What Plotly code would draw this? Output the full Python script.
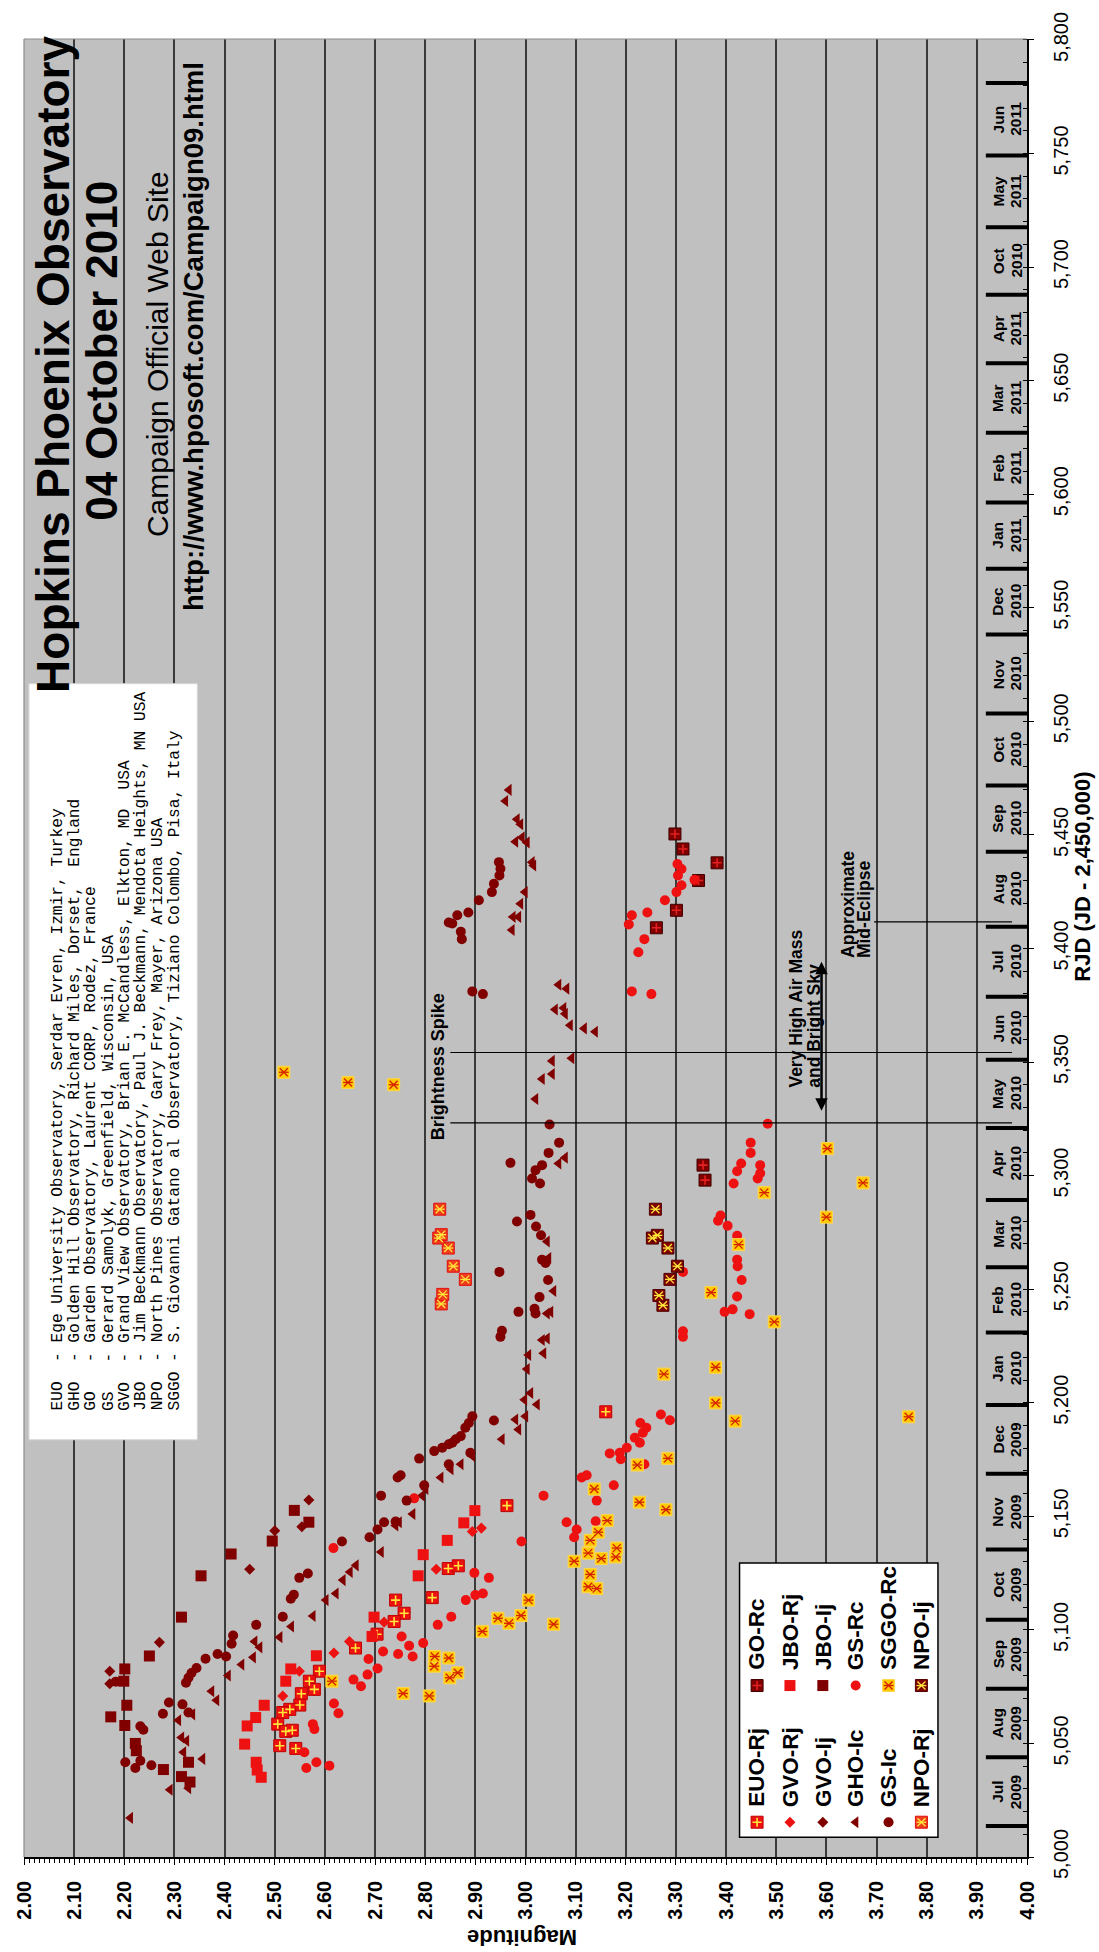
import plotly.graph_objects as go

W, H = 1099, 1952
L, R, T, B = 20, 1027, 28, 1857

def PX(X):
    return (X - L) / (R - L)

def PY(Y):
    return (B - Y) / (B - T)

def MAG(X):
    return 2.0 + 2.0 * (X - L) / (R - L)

def RJD(Y):
    return 5000 + 800.0 * (B - Y) / (B - T)

# ---------------- data (RJD, magnitude) ----------------
euo_rj_rjd = [5081.8, 5077.4, 5073.8, 5071.9, 5066.9, 5065.0, 5063.6, 5058.5, 5055.3, 5055.8, 5049.0, 5047.8,
              5127.0, 5128.2, 5114.2, 5113.1, 5107.3, 5103.7, 5098.1, 5092.0, 5154.7, 5196.0]
euo_rj_mag = [2.589, 2.569, 2.579, 2.553, 2.550, 2.530, 2.516, 2.506, 2.522, 2.535, 2.510, 2.542,
              2.846, 2.866, 2.814, 2.741, 2.758, 2.738, 2.704, 2.661, 2.963, 3.160]

go_rc_rjd = [5450.4, 5443.8, 5437.7, 5429.9, 5416.8, 5409.1, 5304.6, 5298.0]
go_rc_mag = [3.298, 3.314, 3.382, 3.345, 3.301, 3.261, 3.354, 3.358]

gvo_rj_rjd = [5089.8, 5081.8, 5070.9, 5126.7, 5103.4, 5094.9, 5143.3, 5144.8]
gvo_rj_mag = [2.618, 2.549, 2.516, 2.822, 2.718, 2.649, 2.894, 2.912]

jbo_rj_rjd = [5088.6, 5082.8, 5077.4, 5066.8, 5061.4, 5057.7, 5049.7, 5041.7, 5038.3, 5035.1,
              5123.8, 5105.6, 5097.1, 5152.5, 5147.1, 5139.4, 5133.1]
jbo_rj_mag = [2.583, 2.532, 2.522, 2.479, 2.462, 2.445, 2.440, 2.463, 2.465, 2.473,
              2.786, 2.698, 2.694, 2.899, 2.877, 2.844, 2.796]

gvo_ij_rjd = [5126.7, 5094.5, 5081.8, 5076.3, 5143.6, 5145.4, 5157.2]
gvo_ij_mag = [2.450, 2.270, 2.171, 2.171, 2.500, 2.554, 2.568]

jbo_ij_rjd = [5123.8, 5105.6, 5088.5, 5082.8, 5077.4, 5066.8, 5061.7, 5057.9, 5050.0, 5046.8, 5041.7,
              5038.5, 5035.4, 5033.0, 5133.4, 5139.1, 5152.6, 5147.4]
jbo_ij_mag = [2.353, 2.314, 2.250, 2.201, 2.199, 2.205, 2.173, 2.201, 2.222, 2.224, 2.328,
              2.278, 2.314, 2.331, 2.413, 2.495, 2.539, 2.568]

gho_ic_rjd = [5017.2, 5029.6, 5030.3, 5046.1, 5043.2, 5052.6, 5051.2, 5060.2, 5062.8, 5069.0, 5073.0,
              5079.9, 5084.7, 5087.9, 5092.3, 5094.9, 5096.8, 5101.5, 5106.1, 5113.1, 5116.0, 5121.9,
              5125.5, 5128.4, 5134.3, 5146.0, 5147.4, 5151.0, 5159.1, 5162.0, 5167.1, 5170.7, 5172.9,
              5176.6, 5183.9, 5188.2, 5192.6, 5194.0, 5201.3, 5199.2, 5204.3, 5214.8, 5221.0, 5221.8,
              5227.6, 5228.3, 5239.3, 5240.0, 5249.2, 5263.7, 5271.0, 5305.3, 5307.9, 5333.7, 5342.5,
              5344.7, 5350.5, 5351.7, 5363.3, 5364.8, 5366.2, 5371.2, 5373.8, 5373.1, 5382.3, 5384.0,
              5408.1, 5413.9, 5413.9, 5419.7, 5424.8, 5436.5, 5438.0, 5446.7, 5448.9, 5447.0, 5454.7,
              5456.9, 5464.9, 5469.8]
gho_ic_mag = [2.212, 2.291, 2.328, 2.318, 2.356, 2.314, 2.324, 2.308, 2.336, 2.384, 2.374,
              2.407, 2.434, 2.457, 2.470, 2.460, 2.510, 2.533, 2.576, 2.602, 2.622, 2.636,
              2.650, 2.662, 2.712, 2.741, 2.748, 2.775, 2.794, 2.801, 2.831, 2.851, 2.871,
              2.894, 2.953, 2.986, 2.980, 3.000, 2.998, 3.023, 3.010, 3.003, 3.006, 3.036,
              3.033, 3.043, 3.043, 3.050, 3.056, 3.046, 3.043, 3.066, 3.079, 3.020, 3.033,
              3.053, 3.053, 3.092, 3.139, 3.117, 3.089, 3.079, 3.076, 3.059, 3.082, 3.066,
              2.973, 2.986, 2.975, 2.990, 2.999, 3.016, 3.013, 3.003, 2.993, 2.980, 2.990,
              2.983, 2.960, 2.967]

gs_rc_rjd = [5039.2, 5041.7, 5040.2, 5046.1, 5058.5, 5056.3, 5067.6, 5063.3, 5078.1, 5075.2, 5080.3,
             5083.0, 5087.2, 5090.5, 5089.4, 5088.3, 5093.0, 5094.2, 5097.1, 5102.2, 5105.8, 5113.1,
             5115.3, 5116.0, 5125.1, 5122.9, 5136.0, 5157.9, 5138.9, 5159.1, 5140.8, 5144.2, 5147.4,
             5147.8, 5156.9, 5163.7, 5167.1, 5168.1, 5172.9, 5175.1, 5177.7, 5178.0, 5180.2, 5182.4,
             5184.6, 5186.8, 5189.0, 5191.1, 5192.3, 5194.8, 5229.0, 5231.5, 5239.0, 5240.0, 5241.1,
             5246.8, 5254.0, 5257.6, 5260.1, 5263.0, 5273.5, 5277.9, 5280.1, 5282.4, 5296.5, 5298.7,
             5301.0, 5301.9, 5304.6, 5305.3, 5310.0, 5314.5, 5322.8, 5379.9, 5381.1, 5398.3, 5404.1,
             5410.6, 5414.6, 5415.8, 5421.2, 5424.8, 5427.8, 5430.2, 5432.1, 5435.0, 5437.2]
gs_rc_mag = [2.563, 2.583, 2.609, 2.559, 2.576, 2.579, 2.618, 2.627, 2.657, 2.672, 2.685,
             2.705, 2.687, 2.716, 2.746, 2.775, 2.768, 2.796, 2.753, 2.825, 2.852, 2.881,
             2.900, 2.915, 2.898, 2.927, 2.617, 2.778, 2.992, 3.036, 3.097, 3.102, 3.082,
             3.140, 3.142, 3.176, 3.112, 3.122, 3.237, 3.190, 3.168, 3.188, 3.202, 3.228,
             3.218, 3.234, 3.241, 3.229, 3.288, 3.270, 3.314, 3.314, 3.447, 3.397, 3.413,
             3.422, 3.431, 3.314, 3.423, 3.422, 3.422, 3.403, 3.384, 3.389, 3.415, 3.463,
             3.468, 3.422, 3.468, 3.430, 3.449, 3.449, 3.483, 3.251, 3.212, 3.225, 3.237,
             3.206, 3.212, 3.243, 3.278, 3.301, 3.311, 3.337, 3.304, 3.311, 3.303]

gs_ic_rjd = [5041.7, 5039.2, 5042.4, 5040.4, 5077.2, 5057.6, 5056.0, 5063.1, 5068.0, 5067.2, 5063.6,
             5076.7, 5078.9, 5081.0, 5083.2, 5087.3, 5089.4, 5088.3, 5093.9, 5097.5, 5102.2, 5105.8,
             5113.7, 5115.5, 5122.9, 5124.8, 5138.9, 5140.8, 5144.2, 5147.4, 5147.7, 5159.1, 5156.9,
             5163.7, 5167.1, 5168.1, 5175.4, 5178.7, 5180.2, 5172.9, 5181.7, 5182.4, 5183.9, 5185.3,
             5189.0, 5191.1, 5194.0, 5178.0, 5192.2, 5229.0, 5231.7, 5240.0, 5239.3, 5241.4, 5246.5,
             5254.0, 5257.6, 5261.5, 5263.0, 5273.7, 5277.6, 5279.8, 5282.7, 5296.5, 5298.7, 5302.4,
             5304.6, 5305.6, 5310.0, 5314.5, 5322.5, 5379.9, 5381.1, 5404.1, 5407.4, 5411.4, 5411.0,
             5414.6, 5415.8, 5421.2, 5424.8, 5428.5, 5432.1, 5435.1, 5438.0]
gs_ic_mag = [2.202, 2.222, 2.232, 2.254, 2.183, 2.232, 2.238, 2.277, 2.289, 2.316, 2.328,
             2.323, 2.328, 2.334, 2.344, 2.362, 2.386, 2.403, 2.414, 2.417, 2.463, 2.516,
             2.532, 2.538, 2.549, 2.566, 2.634, 2.689, 2.705, 2.718, 2.741, 2.712, 2.763,
             2.798, 2.745, 2.751, 2.788, 2.818, 2.834, 2.847, 2.847, 2.854, 2.861, 2.871,
             2.880, 2.887, 2.894, 2.890, 2.937, 2.950, 2.953, 2.986, 3.020, 3.018, 3.028,
             3.045, 2.948, 3.040, 3.033, 3.031, 3.021, 2.983, 3.010, 3.029, 3.013, 3.020,
             3.033, 2.970, 3.046, 3.067, 3.048, 2.915, 2.894, 2.873, 2.871, 2.847, 2.854,
             2.864, 2.886, 2.907, 2.933, 2.937, 2.948, 2.950, 2.947]

sggo_rc_rjd = [5077.4, 5072.0, 5070.9, 5078.9, 5081.1, 5084.0, 5088.3, 5087.6, 5099.3, 5102.9, 5102.5,
               5105.1, 5106.3, 5113.1, 5118.2, 5119.0, 5124.4, 5130.2, 5131.4, 5132.1, 5133.8, 5136.0,
               5139.4, 5143.0, 5148.1, 5152.9, 5156.2, 5162.0, 5172.6, 5175.5, 5191.9, 5193.8, 5199.9,
               5212.6, 5215.6, 5235.6, 5248.5, 5269.6, 5281.7, 5292.5, 5296.8, 5311.9, 5340.0, 5341.0,
               5345.5]
sggo_rc_mag = [2.614, 2.756, 2.808, 2.849, 2.865, 2.818, 2.819, 2.847, 2.914, 2.967, 3.056,
               2.945, 2.991, 3.006, 3.142, 3.125, 3.129, 3.097, 3.151, 3.180, 3.125, 3.182,
               3.129, 3.145, 3.163, 3.280, 3.227, 3.137, 3.223, 3.284, 3.418, 3.764, 3.379,
               3.276, 3.379, 3.496, 3.370, 3.425, 3.600, 3.476, 3.673, 3.602, 2.737, 2.646,
               2.518]

npo_rj_rjd = [5243.5, 5247.7, 5254.3, 5260.1, 5268.1, 5272.5, 5274.0, 5285.2]
npo_rj_mag = [2.832, 2.835, 2.880, 2.856, 2.846, 2.827, 2.832, 2.829]

npo_ij_rjd = [5242.9, 5247.2, 5254.3, 5260.1, 5268.1, 5272.5, 5273.7, 5285.2]
npo_ij_mag = [3.274, 3.266, 3.288, 3.303, 3.284, 3.253, 3.263, 3.259]

# month band
month_edges = [5013.6, 5043.9, 5074.1, 5104.5, 5135.4, 5168.7, 5199.0, 5230.9, 5259.7, 5289.3, 5321.0,
               5351.0, 5378.7, 5409.6, 5442.6, 5471.7, 5503.4, 5538.2, 5567.2, 5596.3, 5627.1, 5657.6,
               5687.8, 5717.5, 5749.1, 5781.0]
month_names = ['Jul', 'Aug', 'Sep', 'Oct', 'Nov', 'Dec', 'Jan', 'Feb', 'Mar', 'Apr', 'May', 'Jun',
               'Jul', 'Aug', 'Sep', 'Oct', 'Nov', 'Dec', 'Jan', 'Feb', 'Mar', 'Apr', 'Oct', 'May', 'Jun']
month_years = ['2009'] * 6 + ['2010'] * 12 + ['2011'] * 4 + ['2010'] + ['2011', '2011']

spike_rjd = [5354.2, 5323.2]
mid_eclipse_rjd = 5411.7
airmass_rjd = [5327.9, 5394.2]

rjd_ticks = [5000, 5050, 5100, 5150, 5200, 5250, 5300, 5350, 5400, 5450, 5500, 5550, 5600, 5650,
             5700, 5750, 5800]
rjd_ticklabels = ['{:,}'.format(v) for v in rjd_ticks]

observatories = [
    "EUO  - Ege University Observatory, Serdar Evren, Izmir, Turkey",
    "GHO  - Golden Hill Observatory, Richard Miles, Dorset,  England",
    "GO   - Garden Observatory, Laurent CORP, Rodez, France",
    "GS   - Gerard Samolyk, Greenfield, Wisconsin, USA",
    "GVO  - Grand View Observatory, Brian E. McCandless, Elkton, MD  USA",
    "JBO  - Jim Beckmann Observatory, Paul J. Beckmann, Mendota Heights, MN USA",
    "NPO  - North Pines Observatory, Gary Frey, Mayer, Arizona USA",
    "SGGO - S. Giovanni Gatano al Observatory, Tiziano Colombo, Pisa, Italy",
]

# ---------------- styles ----------------
FONT = "Liberation Sans, Arial, sans-serif"
NARROW = "Liberation Sans Narrow, Arial Narrow, Liberation Sans, sans-serif"
MONO = "Liberation Mono, Courier New, monospace"
DARK = '#800000'
RED = '#EE1111'
GOLD = '#FFC800'
YEL = '#FFE83A'
NPOR = '#F03C1E'


def sq(color, size=12, lc=None):
    return dict(symbol='square', size=size, color=color,
                line=dict(color=lc or color, width=1 if lc else 0))


def cross(color):
    return dict(symbol='cross-thin-open', size=6.5, color=color, line=dict(width=1.6))


def star(color):
    return [dict(symbol='x-thin-open', size=8, color=color, line=dict(width=1.3)),
            dict(symbol='line-ew-open', size=7, color=color, line=dict(width=1.3))]


styles = {
    'EUO-Rj': [sq(RED, 12, '#C00000'), cross(YEL)],
    'GO-Rc': [sq(DARK, 12, '#400000'), cross('#E42020')],
    'GVO-Rj': [dict(symbol='diamond', size=8.5, color=RED, line=dict(width=0))],
    'JBO-Rj': [sq(RED, 11)],
    'GVO-Ij': [dict(symbol='diamond', size=8.5, color=DARK, line=dict(width=0))],
    'JBO-Ij': [sq(DARK, 11)],
    'GHO-Ic': [dict(symbol='triangle-left', size=10.5, color=DARK, line=dict(width=0))],
    'GS-Rc': [dict(symbol='circle', size=10, color=RED, line=dict(width=0))],
    'GS-Ic': [dict(symbol='circle', size=10, color=DARK, line=dict(width=0))],
    'SGGO-Rc': [sq(GOLD, 12, '#FFD84A')] + star('#D42000'),
    'NPO-Rj': [sq(NPOR, 12, '#E01010')] + star(YEL),
    'NPO-Ij': [sq(DARK, 12, '#500000')] + star(YEL),
}

series = [
    ('EUO-Rj', euo_rj_mag, euo_rj_rjd),
    ('GO-Rc', go_rc_mag, go_rc_rjd),
    ('GVO-Rj', gvo_rj_mag, gvo_rj_rjd),
    ('JBO-Rj', jbo_rj_mag, jbo_rj_rjd),
    ('GVO-Ij', gvo_ij_mag, gvo_ij_rjd),
    ('JBO-Ij', jbo_ij_mag, jbo_ij_rjd),
    ('GHO-Ic', gho_ic_mag, gho_ic_rjd),
    ('GS-Rc', gs_rc_mag, gs_rc_rjd),
    ('GS-Ic', gs_ic_mag, gs_ic_rjd),
    ('SGGO-Rc', sggo_rc_mag, sggo_rc_rjd),
    ('NPO-Rj', npo_rj_mag, npo_rj_rjd),
    ('NPO-Ij', npo_ij_mag, npo_ij_rjd),
]

fig = go.Figure()


def add_points(name, xs, ys, xaxis='x', yaxis='y'):
    for mk in styles[name]:
        fig.add_trace(go.Scatter(x=xs, y=ys, mode='markers', marker=mk, name=name,
                                 showlegend=False, hoverinfo='skip', xaxis=xaxis, yaxis=yaxis,
                                 cliponaxis=False))


for name, mags, rjds in series:
    add_points(name, mags, rjds)

# ---------------- manual legend (rotated) ----------------
legend_rows = [('EUO-Rj', 'GO-Rc'), ('GVO-Rj', 'JBO-Rj'), ('GVO-Ij', 'JBO-Ij'),
               ('GHO-Ic', 'GS-Rc'), ('GS-Ic', 'SGGO-Rc'), ('NPO-Rj', 'NPO-Ij')]
row_X = [756, 789, 822, 855, 888, 921]
col_marker_Y = [1822, 1684.5]
col_text_Y = [1809, 1671]

annotations = []
for i, pair in enumerate(legend_rows):
    for j, name in enumerate(pair):
        add_points(name, [PX(row_X[i])], [PY(col_marker_Y[j])], xaxis='x2', yaxis='y2')
        annotations.append(dict(xref='paper', yref='paper', x=PX(row_X[i]), y=PY(col_text_Y[j]),
                                text='<b>%s</b>' % name, showarrow=False, textangle=-90,
                                xanchor='center', yanchor='bottom',
                                font=dict(family=FONT, size=22.5, color='black')))

shapes = []
# white boxes
shapes.append(dict(type='rect', xref='x', yref='y', x0=MAG(738.4), x1=MAG(937.6), y0=RJD(1837), y1=RJD(1561),
                   fillcolor='white', line=dict(color='black', width=1.5), layer='between'))
shapes.append(dict(type='rect', xref='x', yref='y', x0=MAG(25), x1=MAG(194), y0=RJD(1437), y1=RJD(676),
                   fillcolor='white', line=dict(color='#d8d8d8', width=1), layer='between'))
# frame (left and top edges gray)
shapes.append(dict(type='line', xref='paper', yref='paper', x0=0, x1=0, y0=0, y1=1,
                   line=dict(color='#8c8c8c', width=1.2)))
shapes.append(dict(type='line', xref='paper', yref='paper', x0=0, x1=1, y0=1, y1=1,
                   line=dict(color='#8c8c8c', width=1.2)))
# month separators
for e in month_edges:
    shapes.append(dict(type='line', xref='x', yref='y', x0=MAG(985.7), x1=4.0, y0=e, y1=e,
                       line=dict(color='black', width=4)))
# annotation lines
for s in spike_rjd:
    shapes.append(dict(type='line', xref='x', yref='y', x0=MAG(448), x1=MAG(1012), y0=s, y1=s,
                       line=dict(color='black', width=1.2)))
shapes.append(dict(type='line', xref='x', yref='y', x0=MAG(873.5), x1=MAG(1012), y0=mid_eclipse_rjd,
                   y1=mid_eclipse_rjd, line=dict(color='black', width=1.2)))

# month labels
for k in range(len(month_names)):
    ymid = (month_edges[k] + month_edges[k + 1]) / 2.0
    annotations.append(dict(xref='paper', yref='y', x=PX(998), y=ymid, text='<b>%s</b>' % month_names[k],
                            showarrow=False, textangle=-90, xanchor='center', yanchor='middle',
                            font=dict(family=FONT, size=15.5, color='black')))
    annotations.append(dict(xref='paper', yref='y', x=PX(1015.5), y=ymid, text='<b>%s</b>' % month_years[k],
                            showarrow=False, textangle=-90, xanchor='center', yanchor='middle',
                            font=dict(family=FONT, size=15.5, color='black')))

# title block
def centered(text, X, Y, size, family=FONT, angle=-90):
    annotations.append(dict(xref='paper', yref='paper', x=PX(X), y=PY(Y), text=text, showarrow=False,
                            textangle=angle, xanchor='center', yanchor='middle',
                            font=dict(family=family, size=size, color='black')))

centered('<b>Hopkins Phoenix Observatory</b>', 49, 355, 46)
centered('<b>04 October 2010</b>', 97, 342, 44)
centered('Campaign Official Web Site', 153.5, 345, 30)
centered('<b>http://www.hposoft.com/Campaign09.html</b>', 189.5, 327, 27.5)

# observatory list
obs_X = [54.5, 71.2, 87.9, 104.6, 121.3, 138.0, 154.7, 171.4]
for X, line in zip(obs_X, observatories):
    annotations.append(dict(xref='paper', yref='paper', x=PX(X), y=PY(1410), text=line.replace(' ', '\u00a0'),
                            showarrow=False, textangle=-90, xanchor='center', yanchor='bottom', align='left',
                            font=dict(family=MONO, size=16.2, color='black')))

# axis titles
centered('<b>Magnitude</b>', 520, 1938, 22, angle=180)
centered('<b>RJD (JD - 2,450,000)</b>', 1083, 871, 22)

# in-plot notes
def note(text, X, Ybottom, size=17.5):
    annotations.append(dict(xref='paper', yref='paper', x=PX(X), y=PY(Ybottom), text='<b>%s</b>' % text,
                            showarrow=False, textangle=-90, xanchor='center', yanchor='bottom',
                            font=dict(family=NARROW, size=size, color='black')))

note('Brightness Spike', 435, 1138, 18)
note('Very High Air Mass', 795, 1085)
note('and Bright Sky', 812.3, 1085)
note('Approximate', 847.3, 955)
note('Mid-Eclipse', 864, 955)

# double arrow
annotations.append(dict(xref='x', yref='y', axref='x', ayref='y', x=MAG(820.7), y=airmass_rjd[1],
                        ax=MAG(820.7), ay=airmass_rjd[0], text='', showarrow=True, arrowhead=2,
                        arrowside='end+start', arrowwidth=2.5, arrowsize=1, arrowcolor='black',
                        standoff=0, startstandoff=0))

fig.update_layout(
    width=W, height=H,
    margin=dict(l=L, r=W - R, t=T, b=H - B, pad=0),
    paper_bgcolor='white', plot_bgcolor='#C0C0C0',
    showlegend=False,
    xaxis=dict(range=[2.0, 4.0], tick0=2.0, dtick=0.1, tickformat='.2f', tickangle=-90,
               tickfont=dict(family=FONT, size=20, color='black', weight='bold'),
               showgrid=True, gridcolor='#3a3a3a', gridwidth=1.6,
               ticks='outside', ticklen=6, tickcolor='black', tickwidth=1,
               minor=dict(dtick=0.01, ticks='outside', ticklen=4, tickcolor='black', tickwidth=1, showgrid=False),
               showline=True, linecolor='black', linewidth=1.5, zeroline=False,
               ticklabelstandoff=8, fixedrange=True),
    yaxis=dict(range=[5000, 5800.4], tickmode='array', tickvals=rjd_ticks, ticktext=rjd_ticklabels,
               side='right', tickangle=-90,
               tickfont=dict(family=FONT, size=20, color='black'),
               showgrid=False, ticks='outside', ticklen=5, tickcolor='black', tickwidth=1,
               minor=dict(dtick=10, tick0=5000, ticks='inside', ticklen=4, tickcolor='black', tickwidth=1,
                          showgrid=False),
               showline=True, linecolor='black', linewidth=1.5, zeroline=False,
               ticklabelstandoff=10, fixedrange=True),
    xaxis2=dict(range=[0, 1], overlaying='x', anchor='y2', visible=False, fixedrange=True),
    yaxis2=dict(range=[0, 1], overlaying='y', anchor='x2', visible=False, fixedrange=True),
    shapes=shapes,
    annotations=annotations,
)

fig.write_html("out.html")
